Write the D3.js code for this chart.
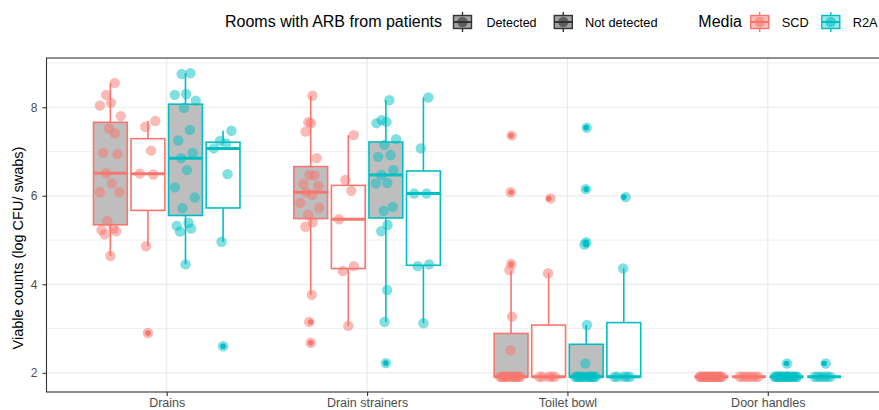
<!DOCTYPE html>
<html>
<head>
<meta charset="utf-8">
<script src="https://cdn.jsdelivr.net/npm/d3@7"></script>
<style>
  body { margin: 0; background: #fff; }
  text { font-family: "Liberation Sans", Arial, sans-serif; }
</style>
</head>
<body>
<div id="chart"></div>
<script>
// categories and groups
const sites = ['Drains', 'Drain strainers', 'Toilet bowl', 'Door handles'];
const media = ['SCD', 'R2A'];
const rooms = ['Detected', 'Not detected'];
const yTicks = [2, 4, 6, 8];
const yMinor = [3, 5, 7, 9];

// viable counts, log CFU / swab
const drainsScdDet = [8.55, 8.28, 8.10, 8.04, 7.80, 7.52, 7.41, 6.97, 6.94, 6.51, 6.28, 6.08, 6.08, 5.43, 5.26, 5.23, 5.20, 5.13, 4.64];
const drainsScdNot = [7.69, 7.56, 7.02, 6.50, 6.48, 4.86, 2.90];
const drainsR2aDet = [8.77, 8.75, 8.30, 8.28, 8.15, 7.99, 7.49, 7.25, 6.97, 6.85, 6.58, 6.19, 5.96, 5.72, 5.39, 5.32, 5.26, 5.19, 4.45];
const drainsR2aNot = [7.47, 7.24, 7.18, 7.07, 6.49, 4.96, 2.60];

const strainScdDet = [8.26, 7.66, 7.64, 7.45, 6.85, 6.47, 6.46, 6.27, 6.22, 6.08, 6.02, 5.84, 5.73, 5.57, 5.40, 5.30, 3.76, 3.15, 2.68];
const strainScdNot = [7.37, 6.36, 6.11, 5.47, 4.41, 4.30, 3.06];
const strainR2aDet = [8.16, 7.71, 7.67, 7.64, 7.28, 7.15, 6.92, 6.88, 6.58, 6.47, 6.29, 6.28, 5.75, 5.66, 5.34, 5.20, 3.87, 3.15, 2.22];
const strainR2aNot = [8.22, 7.07, 6.05, 6.05, 4.45, 4.41, 3.12];

const toiletScdDet = [7.36, 6.08, 4.46, 4.32, 3.27, 2.51, 1.91, 1.91, 1.91, 1.91, 1.91, 1.91, 1.91, 1.91, 1.91, 1.91, 1.91, 1.91, 1.91];
const toiletScdNot = [5.94, 4.25, 1.91, 1.91, 1.91, 1.91, 1.91];
const toiletR2aDet = [7.54, 6.15, 4.95, 4.90, 3.08, 2.21, 1.91, 1.91, 1.91, 1.91, 1.91, 1.91, 1.91, 1.91, 1.91, 1.91, 1.91, 1.91, 1.91];
const toiletR2aNot = [5.97, 4.36, 1.91, 1.91, 1.91, 1.91, 1.91];

const doorScdDet = [1.91, 1.91, 1.91, 1.91, 1.91, 1.91, 1.91, 1.91, 1.91, 1.91, 1.91, 1.91, 1.91, 1.91, 1.91, 1.91, 1.91, 1.91, 1.91];
const doorScdNot = [1.91, 1.91, 1.91, 1.91, 1.91, 1.91, 1.91];
const doorR2aDet = [2.21, 1.91, 1.91, 1.91, 1.91, 1.91, 1.91, 1.91, 1.91, 1.91, 1.91, 1.91, 1.91, 1.91, 1.91, 1.91, 1.91, 1.91, 1.91];
const doorR2aNot = [2.21, 1.91, 1.91, 1.91, 1.91, 1.91, 1.91];

const mediaColor = { SCD: '#F8766D', R2A: '#00BFC4' };
const roomFill = { 'Detected': '#bebebe', 'Not detected': '#ffffff' };

// build the table: one entry per box
const bySite = [
  [drainsScdDet, drainsScdNot, drainsR2aDet, drainsR2aNot],
  [strainScdDet, strainScdNot, strainR2aDet, strainR2aNot],
  [toiletScdDet, toiletScdNot, toiletR2aDet, toiletR2aNot],
  [doorScdDet, doorScdNot, doorR2aDet, doorR2aNot]
];
const groups = [];
sites.forEach((site, i) => {
  let j = 0;
  media.forEach(m => {
    rooms.forEach(r => {
      groups.push({ site: site, media: m, room: r, slot: j, values: bySite[i][j] });
      j++;
    });
  });
});

const width = 879, height = 410;
const panel = { left: 46.5, top: 58, bottom: 392, right: 888 };

const svg = d3.select('#chart').append('svg')
  .attr('width', width)
  .attr('height', height);

const allValues = groups.flatMap(g => g.values);
const ext = d3.extent(allValues);
const pad = (ext[1] - ext[0]) * 0.05;

const x = d3.scalePoint().domain(sites).range([panel.left, panel.right]).padding(0.6);
const y = d3.scaleLinear().domain([ext[0] - pad, ext[1] + pad]).range([panel.bottom, panel.top]);

const slotW = x.step() * 0.75 / 4;
const boxW = slotW * 0.9;
const jitterW = slotW * 0.33;
const dodge = g => x(g.site) + (g.slot - 1.5) * slotW;

// grid
const grid = svg.append('g');
grid.selectAll('.minor').data(yMinor).enter().append('line')
  .attr('x1', panel.left).attr('x2', width)
  .attr('y1', d => y(d)).attr('y2', d => y(d))
  .attr('stroke', '#ebebeb').attr('stroke-width', 0.8);
grid.selectAll('.major').data(yTicks).enter().append('line')
  .attr('x1', panel.left).attr('x2', width)
  .attr('y1', d => y(d)).attr('y2', d => y(d))
  .attr('stroke', '#ebebeb').attr('stroke-width', 1.2);
grid.selectAll('.vmajor').data(sites).enter().append('line')
  .attr('x1', d => x(d)).attr('x2', d => x(d))
  .attr('y1', panel.top).attr('y2', panel.bottom)
  .attr('stroke', '#ebebeb').attr('stroke-width', 1.2);

// box stats
groups.forEach(g => {
  const s = g.values.slice().sort(d3.ascending);
  const q1 = d3.quantile(s, 0.25), med = d3.quantile(s, 0.5), q3 = d3.quantile(s, 0.75);
  const iqr = q3 - q1;
  const isOut = v => v < q1 - 1.5 * iqr || v > q3 + 1.5 * iqr;
  const inside = s.filter(v => !isOut(v));
  g.stats = { q1: q1, med: med, q3: q3, lo: d3.min(inside), hi: d3.max(inside) };
  g.outliers = s.filter(isOut);
});

// quasirandom spread: offset scaled by the group's kernel density (like ggbeeswarm)
function vanDerCorput(n) {
  let v = 0, denom = 1;
  while (n > 0) { denom *= 2; v += (n % 2) / denom; n = Math.floor(n / 2); }
  return v;
}
function spread(values) {
  const n = values.length;
  const sd = d3.deviation(values) || 0;
  const iqr = d3.quantile(values.slice().sort(d3.ascending), 0.75) - d3.quantile(values.slice().sort(d3.ascending), 0.25);
  const lo = Math.min(sd, iqr / 1.34) || sd || 1;
  const bw = 0.9 * lo * Math.pow(n, -0.2);
  const dens = values.map(v => d3.sum(values, u => Math.exp(-0.5 * ((v - u) / bw) ** 2)));
  const maxD = d3.max(dens);
  const order = d3.range(n).sort((a, b) => values[a] - values[b]);
  const offsets = new Array(n);
  order.forEach((idx, r) => {
    offsets[idx] = (vanDerCorput(r + 1) - 0.5) * 2 * (dens[idx] / maxD);
  });
  return offsets;
}

// boxes
const boxes = svg.append('g').selectAll('g').data(groups).enter().append('g');
boxes.append('line')
  .attr('x1', dodge).attr('x2', dodge)
  .attr('y1', d => y(d.stats.q3)).attr('y2', d => y(d.stats.hi))
  .attr('stroke', d => mediaColor[d.media]).attr('stroke-width', 1.6);
boxes.append('line')
  .attr('x1', dodge).attr('x2', dodge)
  .attr('y1', d => y(d.stats.q1)).attr('y2', d => y(d.stats.lo))
  .attr('stroke', d => mediaColor[d.media]).attr('stroke-width', 1.6);
boxes.append('rect')
  .attr('x', d => dodge(d) - boxW / 2)
  .attr('width', boxW)
  .attr('y', d => y(d.stats.q3))
  .attr('height', d => y(d.stats.q1) - y(d.stats.q3))
  .attr('fill', d => roomFill[d.room])
  .attr('stroke', d => mediaColor[d.media]).attr('stroke-width', 1.6);
boxes.append('line')
  .attr('x1', d => dodge(d) - boxW / 2).attr('x2', d => dodge(d) + boxW / 2)
  .attr('y1', d => y(d.stats.med)).attr('y2', d => y(d.stats.med))
  .attr('stroke', d => mediaColor[d.media]).attr('stroke-width', 3);
boxes.selectAll('.outlier').data(d => d.outliers.map(v => ({ g: d, v: v }))).enter().append('circle')
  .attr('cx', d => dodge(d.g)).attr('cy', d => y(d.v)).attr('r', 2.8)
  .attr('fill', d => mediaColor[d.g.media]);

// points
const points = groups.flatMap(g => {
  const off = spread(g.values);
  return g.values.map((v, i) => ({ g: g, v: v, dx: off[i] * jitterW }));
});
svg.append('g').selectAll('circle').data(points).enter().append('circle')
  .attr('cx', d => dodge(d.g) + d.dx)
  .attr('cy', d => y(d.v))
  .attr('r', 5.2)
  .attr('fill', d => mediaColor[d.g.media])
  .attr('fill-opacity', 0.5);

// panel border
svg.append('rect')
  .attr('x', panel.left).attr('y', panel.top)
  .attr('width', panel.right - panel.left).attr('height', panel.bottom - panel.top)
  .attr('fill', 'none').attr('stroke', '#333').attr('stroke-width', 1.1);

// axes
const yAxis = svg.append('g')
  .attr('transform', `translate(${panel.left},0)`)
  .call(d3.axisLeft(y).tickValues(yTicks).tickSize(4).tickPadding(5));
const xAxis = svg.append('g')
  .attr('transform', `translate(0,${panel.bottom})`)
  .call(d3.axisBottom(x).tickSize(4).tickPadding(2.5));
[xAxis, yAxis].forEach(a => {
  a.select('.domain').remove();
  a.selectAll('line').attr('stroke', '#333').attr('stroke-width', 1.1);
  a.selectAll('text').attr('fill', '#4d4d4d').attr('font-size', '12px')
    .attr('font-family', '"Liberation Sans", Arial, sans-serif');
});
xAxis.selectAll('text').attr('font-size', '12.5px');

svg.append('text')
  .attr('transform', 'translate(23,248) rotate(-90)')
  .attr('text-anchor', 'middle')
  .attr('font-size', '14.5px')
  .attr('fill', '#000')
  .text('Viable counts (log CFU/ swabs)');

// legend
const legend = svg.append('g');
const keyCy = 22;
function drawKey(cx, fill, stroke, dot, dotOpacity) {
  const k = legend.append('g');
  k.append('line').attr('x1', cx).attr('x2', cx).attr('y1', keyCy - 10).attr('y2', keyCy + 10)
    .attr('stroke', stroke).attr('stroke-width', 1.4);
  k.append('rect').attr('x', cx - 9).attr('y', keyCy - 6.5).attr('width', 18).attr('height', 13)
    .attr('fill', fill).attr('stroke', stroke).attr('stroke-width', 1.4);
  k.append('line').attr('x1', cx - 9).attr('x2', cx + 9).attr('y1', keyCy).attr('y2', keyCy)
    .attr('stroke', stroke).attr('stroke-width', 2);
  k.append('circle').attr('cx', cx).attr('cy', keyCy).attr('r', 5.2)
    .attr('fill', dot).attr('fill-opacity', dotOpacity);
}
function legendText(xPos, label, size) {
  legend.append('text').attr('x', xPos).attr('y', 26.7)
    .attr('font-size', size).attr('fill', '#000').text(label);
}
legendText(225, 'Rooms with ARB from patients', '16px');
drawKey(462.5, '#a3a3a3', '#333', '#333', 0.6);
legendText(486.5, rooms[0], '12.5px');
drawKey(563.3, '#a3a3a3', '#333', '#333', 0.6);
legendText(585, rooms[1], '12.8px');
legendText(698.3, 'Media', '16px');
drawKey(759.7, '#fcc0bc', mediaColor.SCD, mediaColor.SCD, 0.6);
legendText(781.7, media[0], '12.8px');
drawKey(830.8, '#99e5e7', mediaColor.R2A, mediaColor.R2A, 0.6);
legendText(852.7, media[1], '12.8px');
</script>
</body>
</html>
